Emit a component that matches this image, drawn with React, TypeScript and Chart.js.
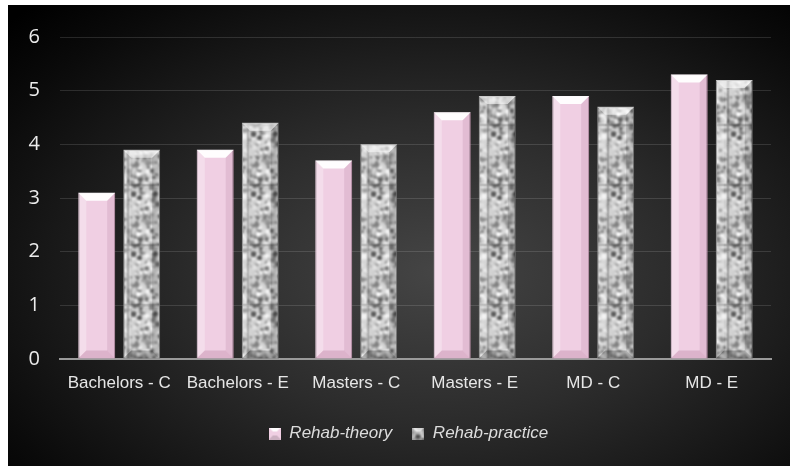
import React, { useEffect, useRef } from 'react';
import { Chart, registerables } from 'chart.js';
Chart.register(...registerables);

const categories = ['Bachelors - C', 'Bachelors - E', 'Masters - C', 'Masters - E', 'MD - C', 'MD - E'];
const theoryValues = [3.1, 3.9, 3.7, 4.6, 4.9, 5.3];
const practiceValues = [3.9, 4.4, 4.0, 4.9, 4.7, 5.2];
const seriesNames = ['Rehab-theory', 'Rehab-practice'];
const yMin = 0;
const yMax = 6;
const yStep = 1;

const PINK = '#f0cfe3';

function makeGranite(): HTMLCanvasElement {
  const size = 60;
  const c = document.createElement('canvas');
  c.width = size; c.height = size;
  const ctx = c.getContext('2d')!;
  let s = 424242;
  const rnd = () => { s = (s * 1103515245 + 12345) & 0x7fffffff; return s / 0x7fffffff; };
  ctx.fillStyle = '#d2d2d2';
  ctx.fillRect(0, 0, size, size);
  for (let i = 0; i < 380; i++) {
    const x = rnd() * size, y = rnd() * size, r = 0.7 + rnd() * 2.2;
    const dark = rnd() < 0.4;
    const g = dark ? Math.floor(85 + rnd() * 80) : Math.floor(205 + rnd() * 50);
    ctx.fillStyle = `rgb(${g},${g},${g})`;
    for (const dx of [-size, 0, size]) for (const dy of [-size, 0, size]) {
      ctx.beginPath(); ctx.arc(x + dx, y + dy, r, 0, Math.PI * 2); ctx.fill();
    }
  }
  const c2 = document.createElement('canvas');
  c2.width = size; c2.height = size;
  const ctx2 = c2.getContext('2d')!;
  ctx2.filter = 'blur(0.8px)';
  for (const dx of [-size, 0, size]) for (const dy of [-size, 0, size]) ctx2.drawImage(c, dx, dy);
  return c2;
}

function drawBevel(ctx: CanvasRenderingContext2D, l: number, t: number, r: number, b: number, kind: number) {
  const w = r - l;
  const k = Math.min(8, w / 4, (b - t) / 2);
  if (k <= 0) return;
  const top = kind === 0 ? 'rgba(255,255,255,0.95)' : 'rgba(255,255,255,0.55)';
  const left = kind === 0 ? 'rgba(255,255,255,0.3)' : 'rgba(255,255,255,0.15)';
  const right = kind === 0 ? 'rgba(150,80,120,0.15)' : 'rgba(0,0,0,0.15)';
  const bottom = kind === 0 ? 'rgba(150,80,120,0.22)' : 'rgba(0,0,0,0.25)';
  const poly = (pts: number[][], fill: string) => {
    ctx.beginPath(); ctx.moveTo(pts[0][0], pts[0][1]);
    for (let i = 1; i < pts.length; i++) ctx.lineTo(pts[i][0], pts[i][1]);
    ctx.closePath(); ctx.fillStyle = fill; ctx.fill();
  };
  poly([[l, t], [r, t], [r - k, t + k], [l + k, t + k]], top);
  poly([[l, t], [l + k, t + k], [l + k, b - k], [l, b]], left);
  poly([[r, t], [r, b], [r - k, b - k], [r - k, t + k]], right);
  poly([[l, b], [l + k, b - k], [r - k, b - k], [r, b]], bottom);
}

function makeLegendIcon(fill: string | CanvasPattern, kind: number): HTMLCanvasElement {
  const c = document.createElement('canvas');
  c.width = 12; c.height = 12;
  const ctx = c.getContext('2d')!;
  ctx.fillStyle = fill as any;
  ctx.fillRect(0, 0, 12, 12);
  const w = 12;
  const k = 4;
  ctx.fillStyle = kind === 0 ? 'rgba(255,255,255,0.95)' : 'rgba(255,255,255,0.7)';
  ctx.beginPath(); ctx.moveTo(0, 0); ctx.lineTo(w, 0); ctx.lineTo(w - k, k); ctx.lineTo(k, k); ctx.closePath(); ctx.fill();
  ctx.fillStyle = 'rgba(0,0,0,0.15)';
  ctx.beginPath(); ctx.moveTo(0, 12); ctx.lineTo(k, 12 - k); ctx.lineTo(w - k, 12 - k); ctx.lineTo(w, 12); ctx.closePath(); ctx.fill();
  return c;
}

const bevelPlugin = {
  id: 'bevel',
  afterLayout(chart: any) {
    const lg = chart.legend;
    if (lg) { lg.left += 19; lg.right += 19; }
  },
  afterDatasetsDraw(chart: any) {
    const ctx = chart.ctx;
    ctx.save();
    chart.data.datasets.forEach((_ds: any, di: number) => {
      const meta = chart.getDatasetMeta(di);
      meta.data.forEach((bar: any) => {
        const p = bar.getProps(['x', 'y', 'base', 'width'], true);
        drawBevel(ctx, p.x - p.width / 2, p.y, p.x + p.width / 2, p.base, di);
      });
    });
    ctx.restore();
  },
};

export default function App() {
  const ref = useRef<HTMLCanvasElement>(null);
  useEffect(() => {
    const canvas = ref.current!;
    const ctx = canvas.getContext('2d')!;
    const granite = ctx.createPattern(makeGranite(), 'repeat')!;
    const icons = [makeLegendIcon(PINK, 0), makeLegendIcon(granite, 1)];
    const chart = new Chart(canvas, {
      type: 'bar',
      data: {
        labels: categories,
        datasets: [
          { label: seriesNames[0], data: theoryValues, backgroundColor: PINK, borderColor: '#c9a3b9', borderWidth: 1, barPercentage: 0.82, categoryPercentage: 0.76 },
          { label: seriesNames[1], data: practiceValues, backgroundColor: granite as any, borderColor: '#8a8a8a', borderWidth: 1, barPercentage: 0.82, categoryPercentage: 0.76 },
        ],
      },
      options: {
        animation: false,
        responsive: false,
        maintainAspectRatio: false,
        layout: { padding: { top: 23, right: 19, bottom: 14, left: 0 } },
        plugins: {
          tooltip: { enabled: false },
          legend: {
            position: 'bottom',
            labels: {
              color: '#dcdcdc',
              font: { family: 'Liberation Sans', size: 17, style: 'italic' },
              usePointStyle: true,
              boxWidth: 12,
              boxHeight: 12,
              padding: 20,
              generateLabels: (ch: any) => {
                const items = Chart.defaults.plugins.legend.labels.generateLabels(ch);
                return items.map((it: any, i: number) => ({ ...it, pointStyle: icons[i], fontColor: '#dcdcdc', lineWidth: 0 }));
              },
            },
          },
        },
        scales: {
          x: {
            grid: { display: false, drawTicks: false },
            border: { display: true, color: '#9a9a9a', width: 2 },
            ticks: { color: '#e6e6e6', font: { family: 'Liberation Sans', size: 17 }, padding: 14, maxRotation: 0 },
            afterFit: (s: any) => { s.height = 46; },
          },
          y: {
            min: yMin,
            max: yMax,
            grid: { color: 'rgba(255,255,255,0.13)', lineWidth: 1, drawTicks: false },
            border: { display: false },
            ticks: { stepSize: yStep, color: '#ececec', font: { family: 'Open Sans', size: 20 }, padding: 20 },
            afterFit: (s: any) => { s.width = 52; },
          },
        },
      },
      plugins: [bevelPlugin],
    });
    return () => chart.destroy();
  }, []);
  return (
    <div style={{
      position: 'absolute', left: 8, top: 5, width: 782, height: 461,
      background: 'radial-gradient(ellipse 75% 80% at 55% 58%, #454545 0%, #2c2c2c 40%, #0a0a0a 85%, #000 100%)',
    }}>
      <canvas ref={ref} width={782} height={461} style={{ display: 'block' }} />
    </div>
  );
}
